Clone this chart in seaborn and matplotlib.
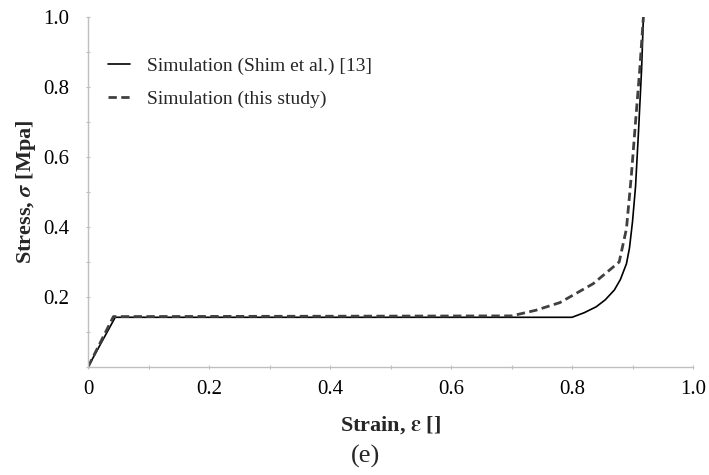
import matplotlib
matplotlib.use("Agg")
import matplotlib.pyplot as plt
import seaborn as sns
import pandas as pd
from matplotlib.ticker import MultipleLocator

# Data
shim_strain = [0, 0.045, 0.80, 0.82, 0.84, 0.855, 0.87, 0.88, 0.89, 0.895, 0.90, 0.905, 0.91, 0.915, 0.918]
shim_stress = [0, 0.142, 0.142, 0.155, 0.172, 0.192, 0.220, 0.250, 0.295, 0.340, 0.415, 0.515, 0.675, 0.850, 1.0]
study_strain = [0, 0.042, 0.70, 0.74, 0.78, 0.835, 0.878, 0.89, 0.898, 0.905, 0.912, 0.918]
study_stress = [0, 0.144, 0.146, 0.162, 0.184, 0.238, 0.300, 0.395, 0.545, 0.700, 0.850, 1.0]
labels = ["Simulation (Shim et al.) [13]", "Simulation (this study)"]
x_ticks = [0, 0.2, 0.4, 0.6, 0.8, 1.0]
x_ticklabels = ["0", "0.2", "0.4", "0.6", "0.8", "1.0"]
y_ticks = [0.2, 0.4, 0.6, 0.8, 1.0]
y_ticklabels = ["0.2", "0.4", "0.6", "0.8", "1.0"]

sns.set_theme(style="white")
plt.rcParams['font.family'] = ['Liberation Serif', 'DejaVu Serif']
plt.rcParams['mathtext.fontset'] = 'stix'

df1 = pd.DataFrame({"strain": shim_strain, "stress": shim_stress})
df2 = pd.DataFrame({"strain": study_strain, "stress": study_stress})

fig = plt.figure(figsize=(7.09, 4.75), dpi=100)
ax = fig.add_axes([88/709, 1-367/475, (693-88)/709, (367-17)/475])

sns.lineplot(data=df1, x="strain", y="stress", ax=ax, color="black", lw=1.2,
             sort=False, label=labels[0])
sns.lineplot(data=df2, x="strain", y="stress", ax=ax, color="#404040", lw=2.0,
             linestyle=(0, (3, 1.6)), sort=False, label=labels[1])

ax.set_xlim(0, 1.0)
ax.set_ylim(0, 1.0)
ax.set_xticks(x_ticks)
ax.set_xticklabels(x_ticklabels)
ax.set_yticks(y_ticks)
ax.set_yticklabels(y_ticklabels)
ax.xaxis.set_minor_locator(MultipleLocator(0.1))
ax.yaxis.set_minor_locator(MultipleLocator(0.1))
ax.tick_params(which="both", direction="inout", length=3, width=0.8, color="#bfbfbf",
               labelsize=15, labelcolor="black", bottom=True, left=True)
ax.tick_params(axis="x", pad=8)
ax.tick_params(axis="y", pad=12)

for s in ["top", "right"]:
    ax.spines[s].set_visible(False)
for s in ["left", "bottom"]:
    ax.spines[s].set_color("#bfbfbf")
    ax.spines[s].set_linewidth(1.0)

ax.set_xlabel(r"Strain, $\boldsymbol{\varepsilon}$ []", fontsize=16, fontweight="bold", labelpad=11)
ax.set_ylabel(r"Stress, $\boldsymbol{\sigma}$ [Mpa]", fontsize=16, fontweight="bold", labelpad=4)

leg = ax.legend(loc="upper left", bbox_to_anchor=(-0.008, 0.956), frameon=False, fontsize=14,
                handlelength=1.1, handletextpad=0.9, labelspacing=0.75, borderaxespad=0.9)

fig.text(366/709, 1-456/475, "(e)", ha="center", va="center", fontsize=19)

fig.savefig("out.png", dpi=100)
